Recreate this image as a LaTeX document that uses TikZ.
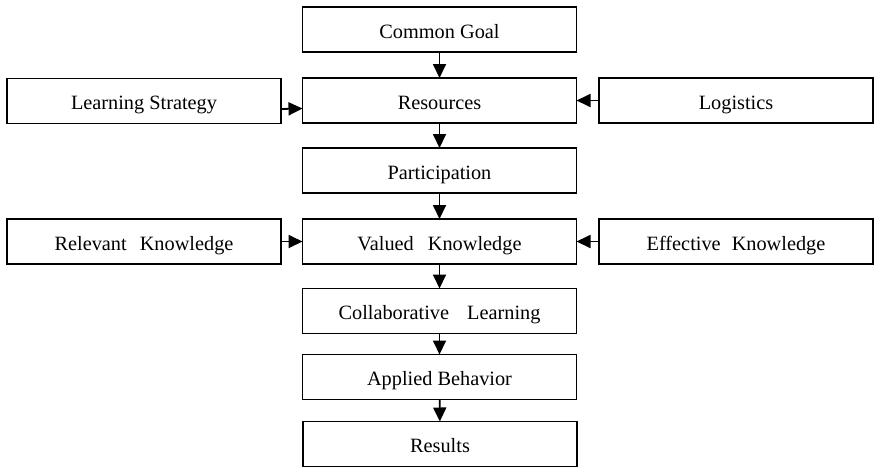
\documentclass[tikz,border=0pt]{standalone}
\usepackage{fontspec}
\setmainfont{Liberation Serif}
\usetikzlibrary{arrows.meta}
\begin{document}
\begin{tikzpicture}[x=1pt,y=-1pt,
  box/.style={draw, line width=1.6pt, minimum width=274pt, minimum height=45pt, inner sep=0pt, outer sep=0pt, text height=17pt, text depth=0pt, font=\fontsize{20.3}{24}\selectfont},
  conn/.style={line width=1.8pt, -{Triangle[length=14pt,width=13pt]}}]
\useasboundingbox (0,0) rectangle (874,469);
\node[box] (cg)  at (439.5,29.5) {Common Goal};
\node[box] (res) at (439.5,100.5) {Resources};
\node[box] (ls)  at (144,101) {Learning Strategy};
\node[box] (lo)  at (736,100.5) {Logistics};
\node[box] (par) at (439.5,170.5) {Participation};
\node[box] (vk)  at (439.5,241.5) {Valued\hspace{9pt} Knowledge};
\node[box] (rk)  at (144,241.5) {Relevant\hspace{8pt} Knowledge};
\node[box] (ek)  at (736,241.5) {Effective\hspace{6pt} Knowledge};
\node[box] (cl)  at (439.5,311) {Collaborative\hspace{13pt} Learning};
\node[box] (ab)  at (439.5,377) {Applied Behavior};
\node[box] (rs)  at (440,444) {Results};
\draw[conn] (cg) -- (res);
\draw[conn] (res) -- (par);
\draw[conn] (par) -- (vk);
\draw[conn] (vk) -- (cl);
\draw[conn] (cl) -- (ab);
\draw[conn] (ab) -- (rs);
\draw[conn] ([yshift=-8pt]ls.east) -- ([yshift=-8pt]res.west);
\draw[conn] (lo) -- (res);
\draw[conn] (rk) -- (vk);
\draw[conn] (ek) -- (vk);
\end{tikzpicture}
\end{document}
